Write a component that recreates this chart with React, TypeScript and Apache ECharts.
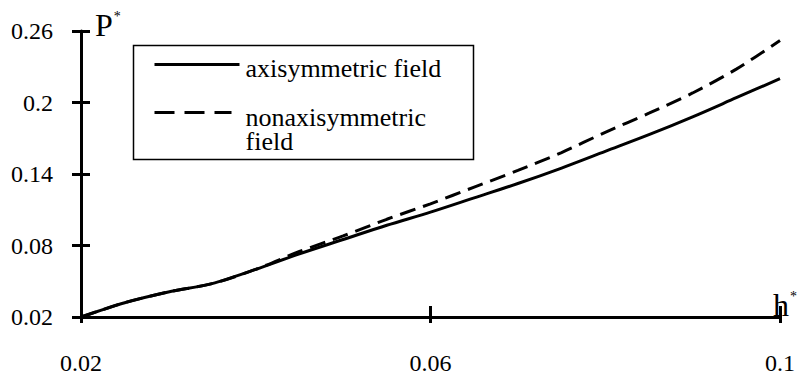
import React, { useEffect, useRef } from "react";
import * as echarts from "echarts";

const hValues = [0.02, 0.025, 0.03, 0.035, 0.04, 0.045, 0.05, 0.055, 0.06, 0.065, 0.07, 0.075, 0.08, 0.085, 0.09, 0.095, 0.1];
const axisymmetric = [0.02, 0.032, 0.041, 0.048, 0.06, 0.073, 0.085, 0.097, 0.108, 0.12, 0.132, 0.145, 0.159, 0.173, 0.188, 0.204, 0.22];
const nonaxisymmetric = [0.02, 0.032, 0.041, 0.048, 0.06, 0.075, 0.088, 0.102, 0.115, 0.129, 0.143, 0.158, 0.175, 0.191, 0.208, 0.228, 0.252];
const seriesNames = ["axisymmetric field", "nonaxisymmetric field"];
const legendLabels = ["axisymmetric field", "nonaxisymmetric\nfield"];
const yMin = 0.02, yMax = 0.26, yStep = 0.06;
const xMin = 0.02, xMax = 0.1, xStep = 0.04;

const FONT = "Liberation Serif";
const fmt = (v: number) => String(+v.toFixed(4));

export default function App() {
  const ref = useRef<HTMLDivElement>(null);
  useEffect(() => {
    const chart = echarts.init(ref.current!, null, { renderer: "svg" });
    const axisName = (t: string) => `{p|${t}}{s|*}`;
    const nameRich = {
      p: { fontFamily: FONT, fontSize: 32, color: "#000" },
      s: { fontFamily: FONT, fontSize: 14, color: "#000", verticalAlign: "top", padding: [0, 0, 16, 1] },
    };
    chart.setOption({
      animation: false,
      backgroundColor: "#fff",
      textStyle: { fontFamily: FONT, color: "#000" },
      grid: { left: 81, right: 23, top: 31, bottom: 54, containLabel: false },
      legend: { show: false },
      graphic: [
        {
          type: "group",
          left: 131,
          top: 43,
          children: [
            { type: "rect", shape: { x: 0, y: 0, width: 340, height: 114 }, style: { fill: "none", stroke: "#000", lineWidth: 1.5 } },
            { type: "line", shape: { x1: 21, y1: 19, x2: 106, y2: 19 }, style: { stroke: "#000", lineWidth: 3 } },
            {
              type: "text",
              x: 112,
              y: 23,
              style: { text: legendLabels[0], fontFamily: FONT, fontSize: 26, fill: "#000", verticalAlign: "middle" },
            },
            { type: "line", shape: { x1: 21, y1: 67, x2: 98, y2: 67 }, style: { stroke: "#000", lineWidth: 3, lineDash: [20, 10] } },
            {
              type: "text",
              x: 112,
              y: 84,
              style: { text: legendLabels[1], fontFamily: FONT, fontSize: 26, lineHeight: 24, fill: "#000", verticalAlign: "middle" },
            },
          ],
        },
      ],
      xAxis: [
        {
          type: "value",
          min: xMin,
          max: xMax,
          interval: xStep,
          position: "bottom",
          name: axisName("h"),
          nameLocation: "end",
          nameGap: 17,
          nameTextStyle: { align: "right", verticalAlign: "bottom", padding: [0, 0, -4, 0], rich: nameRich },
          axisLine: { show: true, lineStyle: { color: "#000", width: 3 } },
          axisTick: { show: true, inside: false, length: 6, lineStyle: { color: "#000", width: 3 } },
          axisLabel: { fontFamily: FONT, fontSize: 24, color: "#000", margin: 34, formatter: fmt },
          splitLine: { show: false },
        },
        {
          type: "value",
          min: xMin,
          max: xMax,
          interval: xStep,
          position: "bottom",
          axisLine: { show: false },
          axisTick: { show: true, inside: true, length: 11, lineStyle: { color: "#000", width: 3 } },
          axisLabel: { show: false },
          splitLine: { show: false },
        },
      ],
      yAxis: [
        {
          type: "value",
          min: yMin,
          max: yMax,
          interval: yStep,
          position: "left",
          name: axisName("P"),
          nameLocation: "end",
          nameGap: 6,
          nameTextStyle: { align: "left", verticalAlign: "middle", padding: [0, 0, 0, 14], rich: nameRich },
          axisLine: { show: true, lineStyle: { color: "#000", width: 3 } },
          axisTick: { show: true, inside: false, length: 9, lineStyle: { color: "#000", width: 3 } },
          axisLabel: { fontFamily: FONT, fontSize: 24, color: "#000", margin: 28, formatter: fmt },
          splitLine: { show: false },
        },
        {
          type: "value",
          min: yMin,
          max: yMax,
          interval: yStep,
          position: "left",
          axisLine: { show: false },
          axisTick: { show: true, inside: true, length: 9, lineStyle: { color: "#000", width: 3 } },
          axisLabel: { show: false },
          splitLine: { show: false },
        },
      ],
      series: [
        {
          name: seriesNames[0],
          type: "line",
          xAxisIndex: 0,
          yAxisIndex: 0,
          data: hValues.map((h, i) => [h, axisymmetric[i]]),
          symbol: "none",
          smooth: 0.3,
          lineStyle: { color: "#000", width: 3, type: "solid" },
          itemStyle: { color: "#000" },
        },
        {
          name: seriesNames[1],
          type: "line",
          xAxisIndex: 0,
          yAxisIndex: 0,
          data: hValues.map((h, i) => [h, nonaxisymmetric[i]]),
          symbol: "none",
          smooth: 0.3,
          lineStyle: { color: "#000", width: 3, type: [16, 8] },
          itemStyle: { color: "#000" },
        },
      ],
    });
    return () => chart.dispose();
  }, []);
  return (
    <div
      ref={ref}
      style={{ position: "fixed", left: 0, top: 0, width: 803, height: 375, background: "#fff" }}
    />
  );
}
